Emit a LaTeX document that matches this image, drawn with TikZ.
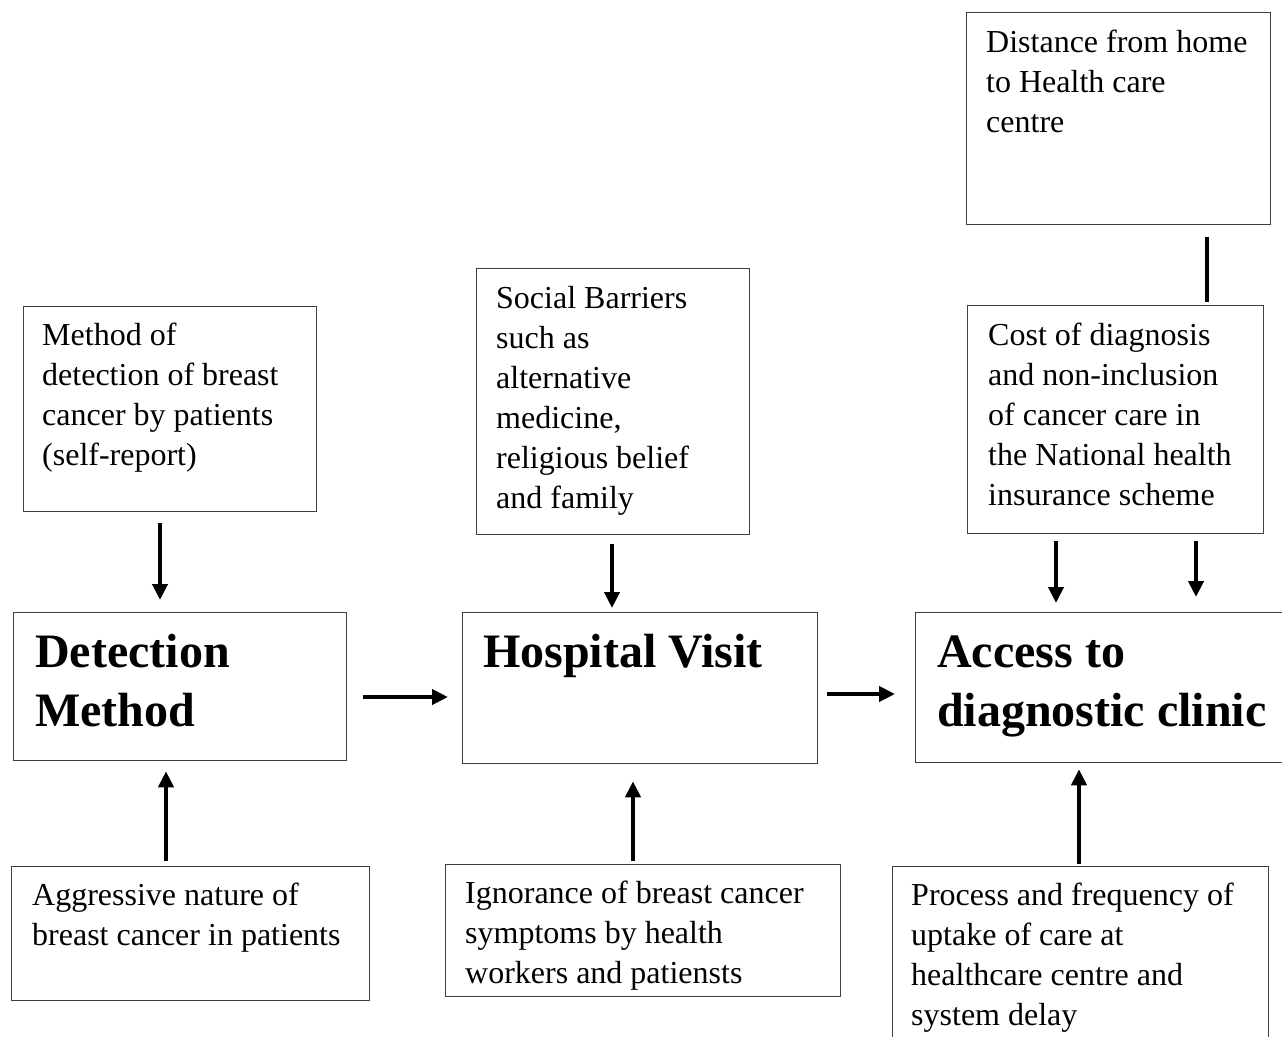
\documentclass[tikz,border=0pt]{standalone}
\usepackage{fontspec}
\setmainfont{Liberation Serif}
\usetikzlibrary{arrows.meta}
\tikzset{
  box/.style={draw=black!75, line width=1.3pt, rectangle, inner sep=0pt, anchor=north west},
  txt/.style={anchor=north west, inner sep=0pt, align=left, font=\fontsize{32}{40}\selectfont},
  ttl/.style={anchor=north west, inner sep=0pt, align=left, font=\fontsize{48}{59}\selectfont\bfseries},
  arr/.style={line width=4pt, -{Triangle[length=16pt,width=15pt]}},
  bar/.style={line width=4pt}
}
\begin{document}
\begin{tikzpicture}[x=1pt,y=-1pt]
\clip (0,0) rectangle (1282,1036);
\fill[white] (0,0) rectangle (1282,1036);
% boxes
\node[box, minimum width=304pt, minimum height=212pt] (dist) at (966,12) {};
\node[box, minimum width=296pt, minimum height=228pt] (cost) at (967,305) {};
\node[box, minimum width=293pt, minimum height=205pt] (meth) at (23,306) {};
\node[box, minimum width=273pt, minimum height=266pt] (soc) at (476,268) {};
\node[box, minimum width=333pt, minimum height=148pt] (det) at (13,612) {};
\node[box, minimum width=355pt, minimum height=151pt] (hosp) at (462,612) {};
\node[box, minimum width=400pt, minimum height=150pt] (acc) at (915,612) {};
\node[box, minimum width=358pt, minimum height=134pt] (agg) at (11,866) {};
\node[box, minimum width=395pt, minimum height=132pt] (ign) at (445,864) {};
\node[box, minimum width=376pt, minimum height=220pt] (proc) at (892,866) {};
% texts
\node[txt] (distT) at ([xshift=20pt,yshift=-12pt]dist.north west) {\strut Distance from home\\to Health care\\centre};
\node[txt] (costT) at ([xshift=21pt,yshift=-12pt]cost.north west) {\strut Cost of diagnosis\\and non-inclusion\\of cancer care in\\the National health\\insurance scheme};
\node[txt] (methT) at ([xshift=19pt,yshift=-11pt]meth.north west) {\strut Method of\\detection of breast\\cancer by patients\\(self-report)};
\node[txt] (socT) at ([xshift=20pt,yshift=-12pt]soc.north west) {\strut Social Barriers\\such as\\alternative\\medicine,\\religious belief\\and family};
\node[ttl] (detT) at ([xshift=22pt,yshift=-14pt]det.north west) {\strut Detection\\Method};
\node[ttl] (hospT) at ([xshift=21pt,yshift=-14pt]hosp.north west) {\strut Hospital Visit};
\node[ttl] (accT) at ([xshift=22pt,yshift=-14pt]acc.north west) {\strut Access to\\diagnostic clinic};
\node[txt] (aggT) at ([xshift=21pt,yshift=-11pt]agg.north west) {\strut Aggressive nature of\\breast cancer in patients};
\node[txt] (ignT) at ([xshift=20pt,yshift=-11pt]ign.north west) {\strut Ignorance of breast cancer\\symptoms by health\\workers and patiensts};
\node[txt] (procT) at ([xshift=19pt,yshift=-11pt]proc.north west) {\strut Process and frequency of\\uptake of care at\\healthcare centre and\\system delay};
% connectors
\draw[bar] ([xshift=241pt]dist.south west) ++(0,12) coordinate (b1) -- ([xshift=240pt,yshift=3pt]cost.north west);
\draw[arr, shorten <=7pt, shorten >=9pt] ([xshift=89pt]cost.south west) -- ([xshift=141pt]acc.north west);
\draw[arr, shorten <=7pt, shorten >=15pt] ([xshift=229pt]cost.south west) -- ([xshift=281pt]acc.north west);
\draw[arr, shorten <=11pt, shorten >=12pt] ([xshift=137pt]meth.south west) -- ([xshift=147pt]det.north west);
\draw[arr, shorten <=9pt, shorten >=4pt] ([xshift=136pt]soc.south west) -- ([xshift=150pt]hosp.north west);
\draw[arr, shorten <=5pt, shorten >=10pt] ([xshift=155pt]agg.north west) -- ([xshift=153pt]det.south west);
\draw[arr, shorten <=3pt, shorten >=17pt] ([xshift=188pt]ign.north west) -- ([xshift=171pt]hosp.south west);
\draw[arr, shorten <=2pt, shorten >=6pt] ([xshift=187pt]proc.north west) -- ([xshift=164pt]acc.south west);
\draw[arr, shorten <=16pt, shorten >=14pt] ([yshift=-85pt]det.north east) -- ([yshift=-85pt]hosp.north west);
\draw[arr, shorten <=9pt, shorten >=20pt] ([yshift=-82pt]hosp.north east) -- ([yshift=-82pt]acc.north west);
\end{tikzpicture}
\end{document}
